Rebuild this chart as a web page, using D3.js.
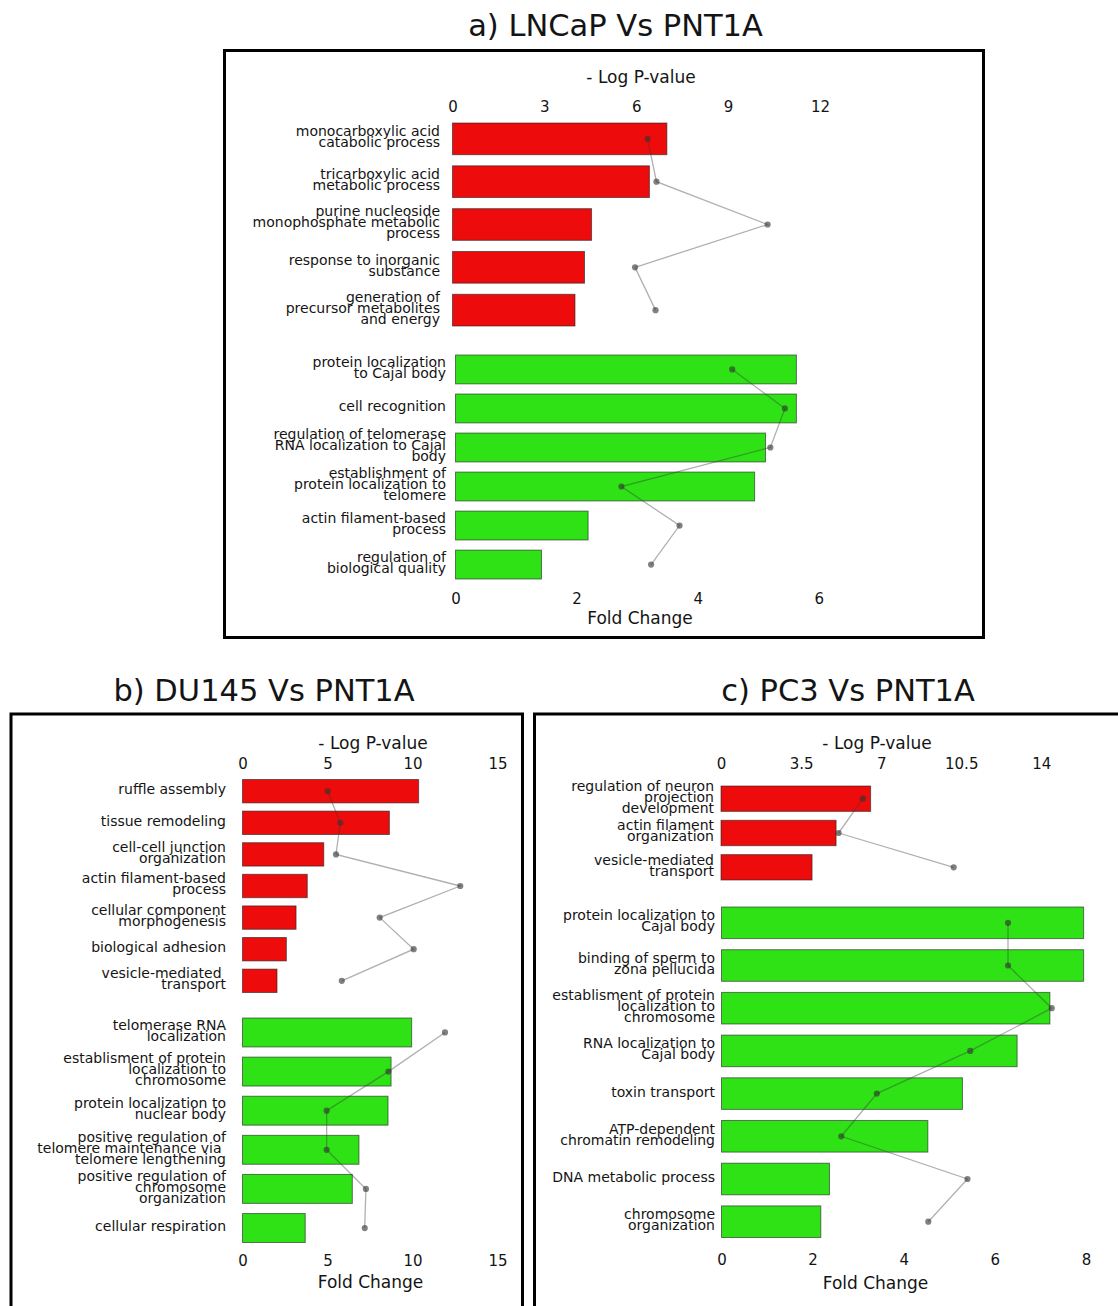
<!DOCTYPE html>
<html><head><meta charset="utf-8">
<script src="https://cdn.jsdelivr.net/npm/d3@7"></script>
<style>
body{margin:0;background:#fff}
text{font-family:"DejaVu Sans",sans-serif;fill:#141414}
</style>
</head><body>
<svg id="chart" width="1118" height="1306"></svg>
<script>
// ---------- Panel a) LNCaP Vs PNT1A ----------
const aUpTerms = ["monocarboxylic acid\ncatabolic process", "tricarboxylic acid\nmetabolic process", "purine nucleoside\nmonophosphate metabolic\nprocess", "response to inorganic\nsubstance", "generation of\nprecursor metabolites\nand energy"];
const aUpBars = [7.0, 6.43, 4.54, 4.31, 4.0];
const aUpDots = [6.37, 6.66, 10.29, 5.96, 6.63];
const aDownTerms = ["protein localization\nto Cajal body", "cell recognition", "regulation of telomerase\nRNA localization to Cajal\nbody", "establishment of\nprotein localization to\ntelomere", "actin filament-based\nprocess", "regulation of\nbiological quality"];
const aDownBars = [5.63, 5.63, 5.12, 4.94, 2.19, 1.42];
const aDownDots = [4.57, 5.44, 5.20, 2.74, 3.70, 3.23];
const aTopTicks = [0, 3, 6, 9, 12];
const aBottomTicks = [0, 2, 4, 6];

// ---------- Panel b) DU145 Vs PNT1A ----------
const bUpTerms = ["ruffle assembly", "tissue remodeling", "cell-cell junction\norganization", "actin filament-based\nprocess", "cellular component\nmorphogenesis", "biological adhesion", "vesicle-mediated \ntransport"];
const bUpBars = [10.36, 8.64, 4.78, 3.81, 3.15, 2.58, 2.03];
const bUpDots = [5.01, 5.75, 5.5, 12.81, 8.07, 10.07, 5.84];
const bDownTerms = ["telomerase RNA\nlocalization", "establisment of protein\nlocalization to\nchromosome", "protein localization to\nnuclear body", "positive regulation of\ntelomere maintenance via \ntelomere lengthening", "positive regulation of\nchromosome\norganization", "cellular respiration"];
const bDownBars = [9.95, 8.74, 8.56, 6.85, 6.46, 3.69];
const bDownDots = [11.91, 8.58, 4.95, 4.95, 7.26, 7.19];
const bTopTicks = [0, 5, 10, 15];
const bBottomTicks = [0, 5, 10, 15];

// ---------- Panel c) PC3 Vs PNT1A ----------
const cUpTerms = ["regulation of neuron\nprojection\ndevelopment", "actin filament\norganization", "vesicle-mediated\ntransport"];
const cUpBars = [6.54, 5.03, 3.98];
const cUpDots = [6.2, 5.14, 10.17];
const cDownTerms = ["protein localization to\nCajal body", "binding of sperm to\nzona pellucida", "establisment of protein\nlocalization to\nchromosome", "RNA localization to\nCajal body", "toxin transport", "ATP-dependent\nchromatin remodeling", "DNA metabolic process", "chromosome\norganization"];
const cDownBars = [7.95, 7.95, 7.21, 6.49, 5.29, 4.53, 2.37, 2.18];
const cDownDots = [6.29, 6.29, 7.25, 5.46, 3.41, 2.63, 5.40, 4.54];
const cTopTicks = [0, 3.5, 7, 10.5, 14];
const cBottomTicks = [0, 2, 4, 6, 8];

const titles = ["a) LNCaP Vs PNT1A", "b) DU145 Vs PNT1A", "c) PC3 Vs PNT1A"];
const topAxisTitle = "- Log P-value";
const bottomAxisTitle = "Fold Change";

const RED = "#ed0b0b", GREEN = "#2ee216";
const svg = d3.select("#chart");

function section(terms, bars, dots, color, yRange, x, labelX) {
  const y = d3.scaleBand().domain(d3.range(terms.length)).range(yRange).paddingInner(0.26).paddingOuter(0);
  const bw = y.bandwidth();
  const g = svg.append("g");
  g.selectAll("rect.bar").data(bars).join("rect")
    .attr("class", "bar")
    .attr("x", x(0)).attr("y", (d, i) => y(i))
    .attr("width", d => x(d) - x(0)).attr("height", bw)
    .attr("fill", color).attr("stroke", "#222").attr("stroke-opacity", 0.6).attr("stroke-width", 1);
  const line = d3.line().x(d => x(d)).y((d, i) => y(i) + bw / 2);
  g.append("path").datum(dots).attr("d", line)
    .attr("fill", "none").attr("stroke", "#3a3a3a").attr("stroke-opacity", 0.4).attr("stroke-width", 1.3);
  g.selectAll("circle").data(dots).join("circle")
    .attr("cx", d => x(d)).attr("cy", (d, i) => y(i) + bw / 2).attr("r", 3.1)
    .attr("fill", "#333").attr("fill-opacity", 0.62);
  terms.forEach((t, i) => {
    const lines = t.split("\n");
    const c = y(i) + bw / 2;
    const txt = g.append("text").attr("text-anchor", "end").attr("font-size", 14)
      .style("white-space", "pre");
    lines.forEach((l, k) => {
      txt.append("tspan").attr("x", labelX)
        .attr("y", c + 2.9 + (k - (lines.length - 1) / 2) * 11).text(l);
    });
  });
}

function axis(kind, x, ticks, yPos) {
  const ax = (kind === "top" ? d3.axisTop(x) : d3.axisBottom(x))
    .tickValues(ticks).tickSize(0).tickPadding(0).tickFormat(d => String(d));
  const g = svg.append("g").attr("transform", `translate(0,${yPos})`).call(ax);
  g.select(".domain").remove();
  g.attr("font-size", 15).attr("font-family", "DejaVu Sans");
}

function label(txt, x, y, size) {
  svg.append("text").attr("x", x).attr("y", y).attr("text-anchor", "middle")
    .attr("font-size", size).text(txt);
}

// Frames
svg.append("rect").attr("x", 224.5).attr("y", 50.5).attr("width", 759).attr("height", 587)
  .attr("fill", "none").attr("stroke", "#000").attr("stroke-width", 3);
svg.append("rect").attr("x", 11).attr("y", 714).attr("width", 511.5).attr("height", 700)
  .attr("fill", "none").attr("stroke", "#000").attr("stroke-width", 3);
svg.append("rect").attr("x", 534.5).attr("y", 714).attr("width", 700).attr("height", 700)
  .attr("fill", "none").attr("stroke", "#000").attr("stroke-width", 3);

// Titles
label(titles[0], 615.5, 35.5, 30.5);
label(titles[1], 264, 701, 30.5);
label(titles[2], 848, 701, 30.5);

// Panel a
const aXTop = d3.scaleLinear().domain([0, 12]).range([452.5, 820]);
const aXBot = d3.scaleLinear().domain([0, 6]).range([455.5, 818.8]);
section(aUpTerms, aUpBars, aUpDots, RED, [123, 326], aXTop, 440);
section(aDownTerms, aDownBars, aDownDots, GREEN, [355, 579], aXBot, 446);
axis("top", aXTop, aTopTicks, 111.5);
axis("bottom", aXBot, aBottomTicks, 593);
label(topAxisTitle, 641, 83, 17);
label(bottomAxisTitle, 640, 624, 17);

// Panel b
const bX = d3.scaleLinear().domain([0, 15]).range([242.5, 497.5]);
section(bUpTerms, bUpBars, bUpDots, RED, [779.5, 992.5], bX, 226);
section(bDownTerms, bDownBars, bDownDots, GREEN, [1018, 1242.5], bX, 226);
axis("top", bX, bTopTicks, 769);
axis("bottom", bX, bBottomTicks, 1255);
label(topAxisTitle, 373, 748.5, 17);
label(bottomAxisTitle, 370.5, 1288, 17);

// Panel c
const cXTop = d3.scaleLinear().domain([0, 14]).range([721, 1041.3]);
const cXBot = d3.scaleLinear().domain([0, 8]).range([721.5, 1085.9]);
section(cUpTerms, cUpBars, cUpDots, RED, [786, 880], cXTop, 714);
section(cDownTerms, cDownBars, cDownDots, GREEN, [907, 1237.5], cXBot, 715);
axis("top", cXTop, cTopTicks, 769);
axis("bottom", cXBot, cBottomTicks, 1254);
label(topAxisTitle, 877, 748.5, 17);
label(bottomAxisTitle, 875.5, 1288.5, 17);
</script>
</body></html>
